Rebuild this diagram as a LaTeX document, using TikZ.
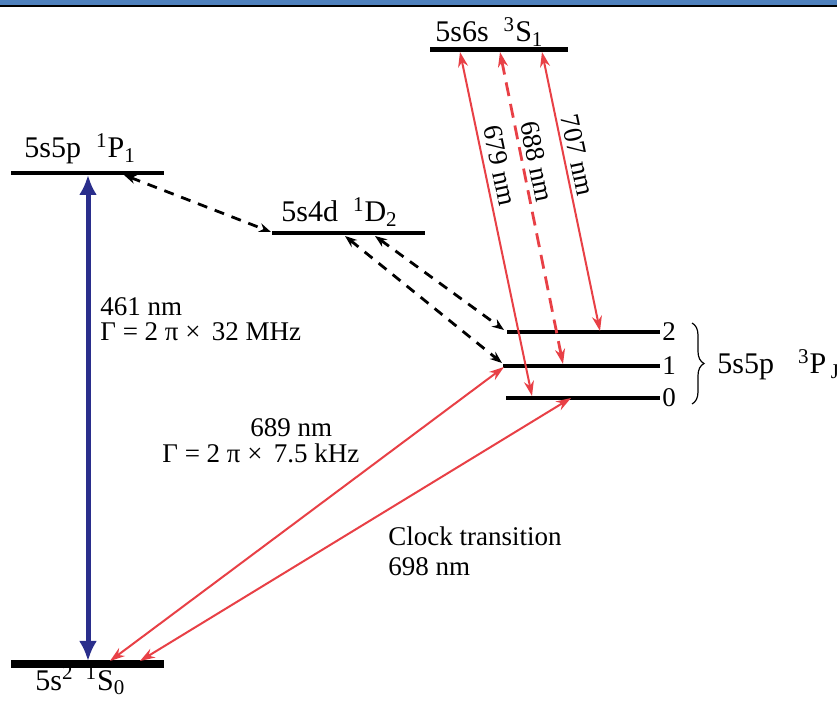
\documentclass[tikz,border=0pt]{standalone}
\usepackage{fontspec}
\setmainfont{Liberation Serif}
\usetikzlibrary{positioning,arrows.meta,decorations.pathreplacing}
\definecolor{linered}{RGB}{232,64,70}
\definecolor{lineblue}{RGB}{42,46,140}
\definecolor{bandblue}{RGB}{79,129,189}

\begin{document}
\begin{tikzpicture}[x=0.5pt, y=-0.5pt,
    every node/.style={font=\fontsize{13.5}{12.5}\selectfont, inner sep=0pt, align=left},
    statelabel/.style={anchor=base west, font=\fontsize{15}{15}\selectfont},
    statebar/.style={line width=2pt},
    redarrow/.style={draw=linered, line width=1pt, {Stealth[length=7.5pt,width=5pt]}-{Stealth[length=7.5pt,width=5pt]}},
    dasharrow/.style={draw=black, line width=1.4pt, dash pattern=on 5pt off 4pt, {Stealth[length=6pt,width=4.5pt]}-{Stealth[length=6pt,width=4.5pt]}},
    bluearrow/.style={draw=lineblue, line width=2.5pt, {Latex[length=10pt,width=9pt]}-{Latex[length=10pt,width=9pt]}}]
    \useasboundingbox (0,0) rectangle (837,711);
    \fill[bandblue] (0,0) rectangle (837,5);
    \fill[black] (0,5) rectangle (837,7);

    % levels
    \draw[statebar, line width=2.5pt] (430,50) -- (568,50);
    \draw[statebar] (11,173) -- (164,173);
    \draw[statebar] (272,233) -- (425,233);
    \draw[statebar] (507,332) -- (660,332);
    \draw[statebar] (503,366) -- (660,366);
    \draw[statebar] (506,398) -- (660,398);
    \draw[statebar, line width=4pt] (11,664) -- (164,664);

    \node[statelabel] (s1lab) at (435,42) {5s6s\hspace{0.5em}\textsuperscript{3}S\textsubscript{1}};
    \node[statelabel] (p1lab) at (24,158) {5s5p\hspace{0.5em}\textsuperscript{1}P\textsubscript{1}};
    \node[statelabel] (d2lab) at (281,222) {5s4d\hspace{0.5em}\textsuperscript{1}D\textsubscript{2}};
    \node[statelabel] (s0lab) at (35,690) {5s\textsuperscript{2}\hspace{0.4em}\textsuperscript{1}S\textsubscript{0}};
    \node[anchor=west] (j2) at (662,332) {2};
    \node[anchor=west] (j1) at (662,366) {1};
    \node[anchor=west] (j0) at (662,398) {0};
    \draw[decorate, decoration={brace, amplitude=6pt}, line width=0.6pt] (692,323) -- (692,404);
    \node[statelabel] (pjlab) at (717,374) {5s5p\hspace{0.8em}\textsuperscript{3}P\hspace{0.15em}\textsubscript{J}};

    % arrow ends
    \coordinate (p1-461) at (88,175);
    \coordinate (s0-461) at (88,661);
    \coordinate (s0-689) at (110,661);
    \coordinate (s0-698) at (140,661);
    \coordinate (p1-d2) at (124,175);
    \coordinate (d2-p1) at (271,232);
    \coordinate (d2-a) at (345,236);
    \coordinate (d2-b) at (375,236);
    \coordinate (t1-d2) at (502,363);
    \coordinate (t2-d2) at (504,330);
    \coordinate (t1-689) at (504,367);
    \coordinate (t0-698) at (571,398);
    \coordinate (s1-679) at (460,52);
    \coordinate (s1-688) at (500,52);
    \coordinate (s1-707) at (542,52);
    \coordinate (t0-679) at (532,396);
    \coordinate (t1-688) at (563,364);
    \coordinate (t2-707) at (600,331);

    \draw[bluearrow] (s0-461) -- (p1-461);
    \draw[dasharrow] (p1-d2) -- (d2-p1);
    \draw[dasharrow] (d2-a) -- (t1-d2);
    \draw[dasharrow] (d2-b) -- (t2-d2);
    \draw[redarrow] (s0-689) -- (t1-689);
    \draw[redarrow] (s0-698) -- (t0-698);
    \draw[redarrow] (s1-679) -- node[sloped, above=3pt, pos=0.34] (l679) {679 nm} (t0-679);
    \draw[redarrow, line width=1.4pt, dash pattern=on 7pt off 4pt] (s1-688) -- node[sloped, above=2pt, pos=0.36] (l688) {688 nm} (t1-688);
    \draw[redarrow] (s1-707) -- node[sloped, above=2pt, pos=0.38] (l707) {707 nm} (t2-707);

    \node[anchor=north west] (l461) at (100,297) {461 nm\\ Γ = 2 π × \,32 MHz};
    \node[anchor=base west] (l689) at (250,437) {689 nm};
    \node[anchor=base west] (g689) at (162,463) {Γ = 2 π × \,7.5 kHz};
    \node[anchor=north west, font=\fontsize{13.5}{15}\selectfont] (clock) at (388,526) {Clock transition\\ 698 nm};
\end{tikzpicture}
\end{document}
